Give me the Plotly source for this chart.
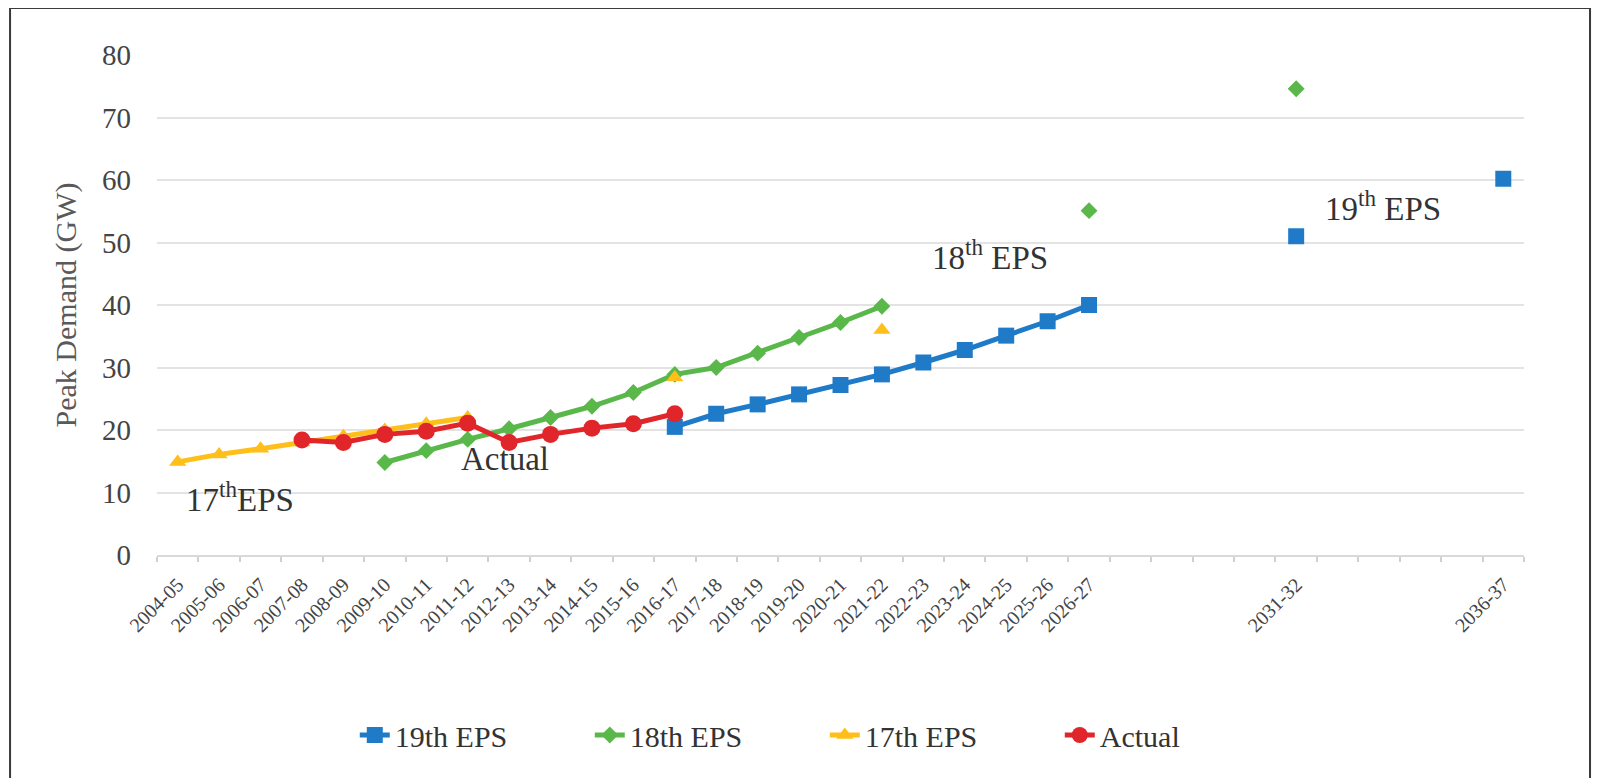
import plotly.graph_objects as go

# %%
# Data (fiscal years, evenly spaced; only some years labelled)
years = ["2004-05", "2005-06", "2006-07", "2007-08", "2008-09", "2009-10", "2010-11",
         "2011-12", "2012-13", "2013-14", "2014-15", "2015-16", "2016-17", "2017-18",
         "2018-19", "2019-20", "2020-21", "2021-22", "2022-23", "2023-24", "2024-25",
         "2025-26", "2026-27", "2027-28", "2028-29", "2029-30", "2030-31", "2031-32",
         "2032-33", "2033-34", "2034-35", "2035-36", "2036-37"]
labelled = years[:23] + ["2031-32", "2036-37"]

eps19_years = ["2016-17", "2017-18", "2018-19", "2019-20", "2020-21", "2021-22", "2022-23",
               "2023-24", "2024-25", "2025-26", "2026-27", "2031-32", "2036-37"]
eps19_vals = [20.5, 22.6, 24.1, 25.7, 27.2, 28.9, 30.8, 32.8, 35.1, 37.4, 40.0, 51.0, 60.2]

eps18_years = ["2009-10", "2010-11", "2011-12", "2012-13", "2013-14", "2014-15", "2015-16",
               "2016-17", "2017-18", "2018-19", "2019-20", "2020-21", "2021-22",
               "2026-27", "2031-32"]
eps18_vals = [14.8, 16.7, 18.5, 20.2, 22.0, 23.8, 26.0, 28.9, 30.0, 32.3, 34.8, 37.2, 39.8,
              55.1, 74.6]

eps17_years = ["2004-05", "2005-06", "2006-07", "2007-08", "2008-09", "2009-10", "2010-11",
               "2011-12", "2016-17", "2021-22"]
eps17_vals = [14.9, 16.1, 17.0, 18.0, 19.0, 20.0, 21.0, 22.0, 28.4, 36.0]

actual_years = ["2007-08", "2008-09", "2009-10", "2010-11", "2011-12", "2012-13", "2013-14",
                "2014-15", "2015-16", "2016-17"]
actual_vals = [18.4, 18.0, 19.3, 19.8, 21.1, 18.0, 19.3, 20.3, 21.0, 22.6]


def full_series(ys, vals):
    # spread a series over every year, gaps left as None so lines break
    lookup = dict(zip(ys, vals))
    return [lookup.get(y) for y in years]


xs = list(range(len(years)))
SERIF = "Liberation Serif"

# %%
fig = go.Figure()

series = [
    ("19th EPS", eps19_years, eps19_vals, "#1f7bc8", "square", 16),
    ("18th EPS", eps18_years, eps18_vals, "#5ab84b", "diamond", 13),
    ("17th EPS", eps17_years, eps17_vals, "#ffbf1a", "triangle-up", 15),
    ("Actual", actual_years, actual_vals, "#e0262a", "circle", 17),
]

for name, ys, vals, color, symbol, size in series:
    fig.add_trace(go.Scatter(
        x=xs, y=full_series(ys, vals), name=name, mode="lines+markers",
        connectgaps=False,
        line=dict(color=color, width=5),
        marker=dict(color=color, symbol=symbol, size=size),
    ))

# %%
# Labels on the plot
notes = [
    ("17<sup>th</sup>EPS", 1.5, 9.3),
    ("Actual", 7.9, 15.4),
    ("18<sup>th</sup> EPS", 19.6, 48.0),
    ("19<sup>th</sup> EPS", 29.1, 55.8),
]
for text, x, y in notes:
    fig.add_annotation(x=x, y=y, text=text, showarrow=False,
                       font=dict(family=SERIF, size=33, color="#333333"))

# outer frame
fig.add_shape(type="rect", xref="paper", yref="paper",
              x0=-0.1075, x1=1.0483, y0=-0.5, y1=1.094,
              line=dict(color="#3a3a3a", width=2), fillcolor="rgba(0,0,0,0)")

fig.update_layout(
    width=1600, height=778,
    margin=dict(l=149, r=84, t=47, b=231),
    paper_bgcolor="white", plot_bgcolor="white",
    font=dict(family=SERIF, color="#444444"),
    legend=dict(orientation="h", x=0.4885, xanchor="center", y=-0.36, yanchor="middle",
                font=dict(family=SERIF, size=30, color="#333333"), entrywidth=190),
)

fig.update_xaxes(
    range=[-0.5, 32.5],
    tickvals=[years.index(y) for y in labelled], ticktext=labelled,
    tickangle=-45, ticks="", ticklabelstandoff=8,
    tickfont=dict(family=SERIF, size=20, color="#444444"),
    showgrid=False, zeroline=False,
    showline=True, linecolor="#d9d9d9", linewidth=2,
    minor=dict(tickmode="linear", tick0=-0.5, dtick=1, ticks="outside",
               ticklen=5, tickcolor="#d0d0d0", tickwidth=1.5, showgrid=False),
)

fig.update_yaxes(
    range=[0, 80], dtick=10,
    showgrid=True, gridcolor="#e3e3e3", gridwidth=2,
    zeroline=False, ticks="", ticklabelstandoff=25,
    tickfont=dict(family=SERIF, size=29, color="#444444"),
    title=dict(text="Peak Demand (GW)", font=dict(family=SERIF, size=30, color="#595959"),
               standoff=16),
)

fig.write_html("out.html")
